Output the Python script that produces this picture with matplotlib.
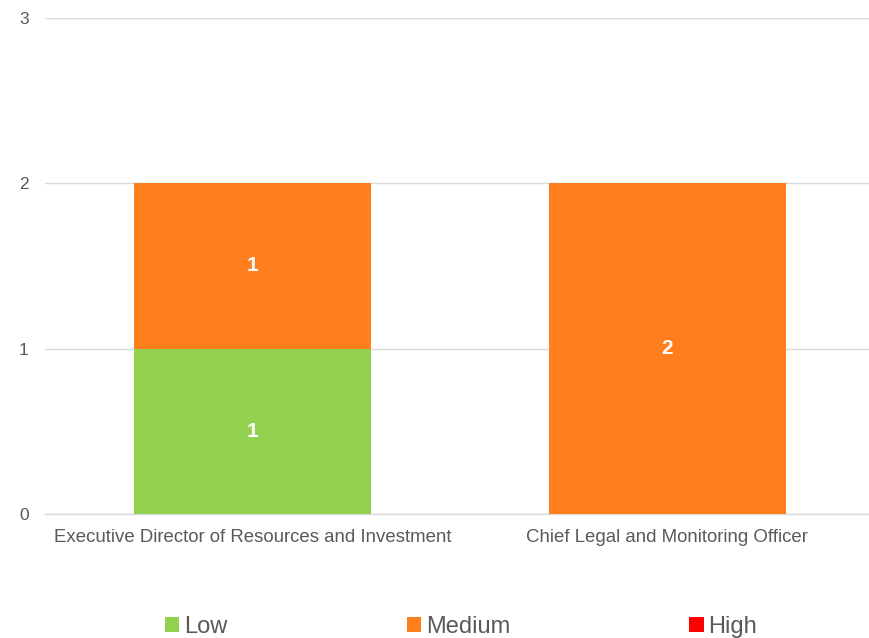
import matplotlib
matplotlib.use("Agg")
import matplotlib.pyplot as plt
from matplotlib.patches import Patch
import numpy as np

plt.rcParams['font.family'] = ['Liberation Sans', 'DejaVu Sans']

categories = ["Executive Director of Resources and Investment",
              "Chief Legal and Monitoring Officer"]
series_names = ["Low", "Medium", "High"]
low = [1, 0]
medium = [1, 2]
high = [0, 0]
y_ticks = [0, 1, 2, 3]

colors = {"Low": "#92D050", "Medium": "#FF7F1F", "High": "#FF0000"}
text_color = "#595959"
grid_color = "#D9D9D9"

fig = plt.figure(figsize=(8.7, 6.38), dpi=100)
ax = fig.add_axes([0.0522, 0.1944, 0.953, 0.7774])

x = np.arange(len(categories))
width = 0.572
bottom = np.zeros(len(categories))
for name, vals in zip(series_names, [low, medium, high]):
    vals = np.array(vals, dtype=float)
    ax.bar(x, vals, width, bottom=bottom, color=colors[name], label=name, zorder=3)
    for xi, v, b in zip(x, vals, bottom):
        if v > 0:
            ax.text(xi, b + v / 2, f"{int(v)}", ha="center", va="center",
                    color="white", fontsize=15, fontweight="bold", zorder=4)
    bottom += vals

ax.set_xlim(-0.5, len(categories) - 0.5)
ax.set_ylim(0, 3)
ax.set_yticks(y_ticks)
ax.set_yticklabels([str(t) for t in y_ticks])
ax.set_xticks(x)
ax.set_xticklabels(categories)
ax.tick_params(axis="both", length=0, colors=text_color)
ax.tick_params(axis="y", pad=12, labelsize=12.5)
ax.tick_params(axis="x", pad=11, labelsize=13.4)
ax.grid(axis="y", color=grid_color, linewidth=1, zorder=0)
for side in ["top", "right", "left"]:
    ax.spines[side].set_visible(False)
ax.spines["bottom"].set_color(grid_color)
ax.spines["bottom"].set_linewidth(1)

handles = [Patch(facecolor=colors[n], edgecolor="none", label=n) for n in series_names]
leg = fig.legend(handles=handles, loc="center", bbox_to_anchor=(0.53, 0.018),
                 ncol=3, frameon=False, fontsize=17, handlelength=0.6,
                 handleheight=0.6, handletextpad=0.2, columnspacing=7.6)
for t in leg.get_texts():
    t.set_color(text_color)

fig.savefig("out.png", dpi=100)
